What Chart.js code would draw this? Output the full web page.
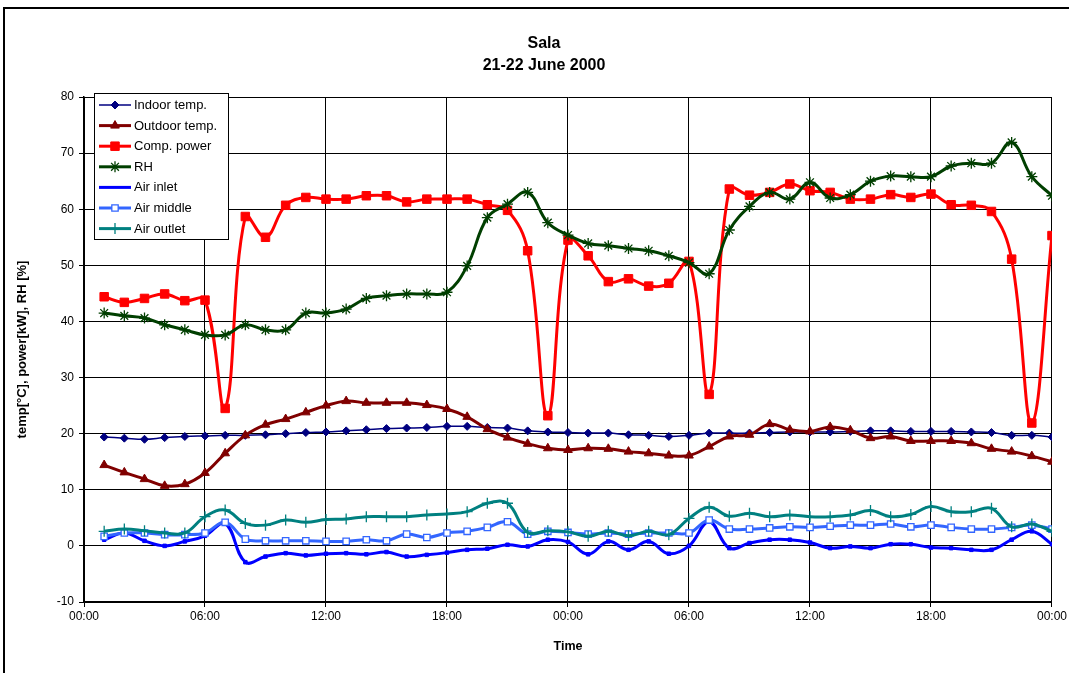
<!DOCTYPE html>
<html>
<head>
<meta charset="utf-8">
<title>Sala 21-22 June 2000</title>
<script src="https://cdn.jsdelivr.net/npm/chart.js@4/dist/chart.umd.min.js"></script>
<style>
  html, body { margin: 0; padding: 0; background: #fff; }
  #wrap { position: relative; width: 1069px; height: 673px; }
</style>
</head>
<body>
<div id="wrap"><canvas id="c" width="1069" height="673"></canvas></div>
<script>
// Hours since midnight 21 June (hourly readings)
const hours = [1,2,3,4,5,6,7,8,9,10,11,12,13,14,15,16,17,18,19,20,21,22,23,24,
               25,26,27,28,29,30,31,32,33,34,35,36,37,38,39,40,41,42,43,44,45,46,47,48];

const tickLabels = ['00:00','06:00','12:00','18:00','00:00','06:00','12:00','18:00','00:00'];

const indoorTemp = [19.4,19.2,19.0,19.3,19.5,19.6,19.7,19.7,19.8,20.0,20.2,20.3,
                    20.5,20.7,20.9,21.0,21.1,21.3,21.3,21.1,21.0,20.5,20.3,20.2,
                    20.1,20.1,19.8,19.7,19.5,19.7,20.1,20.1,20.1,20.2,20.3,20.3,
                    20.3,20.4,20.5,20.5,20.4,20.4,20.4,20.3,20.2,19.7,19.7,19.4];

const outdoorTemp = [14.4,13.1,11.9,10.7,11.0,13.0,16.5,19.7,21.6,22.6,23.8,25.0,
                     25.8,25.5,25.5,25.5,25.1,24.4,23.0,20.8,19.3,18.2,17.4,17.1,
                     17.4,17.3,16.8,16.5,16.1,16.1,17.7,19.5,19.8,21.7,20.7,20.4,
                     21.2,20.6,19.2,19.5,18.7,18.7,18.7,18.3,17.3,16.8,16.0,15.0];

const compPower = [44.4,43.4,44.1,44.9,43.7,43.8,24.5,58.7,55.0,60.7,62.1,61.8,
                   61.8,62.4,62.4,61.3,61.8,61.8,61.8,60.8,59.8,52.6,23.2,54.5,
                   51.7,47.1,47.6,46.3,46.8,50.7,27.0,63.6,62.5,63.0,64.5,63.3,
                   63.0,61.8,61.8,62.6,62.1,62.7,60.8,60.7,59.6,51.1,21.9,55.3];

const relHumidity = [41.5,41.0,40.6,39.4,38.5,37.6,37.6,39.4,38.5,38.5,41.5,41.5,
                     42.2,44.1,44.6,44.9,44.9,45.2,49.9,58.5,60.9,63.0,57.6,55.4,
                     53.9,53.5,53.0,52.6,51.7,50.5,48.5,56.3,60.5,63.0,61.8,64.8,
                     62.0,62.6,65.0,65.9,65.8,65.8,67.7,68.2,68.2,71.9,65.8,62.4];

const airInlet = [1.1,2.3,0.9,0.0,0.8,1.8,4.0,-2.9,-1.9,-1.3,-1.7,-1.4,
                  -1.3,-1.5,-1.1,-1.9,-1.6,-1.2,-0.7,-0.5,0.2,-0.1,1.1,0.7,
                  -1.5,0.8,-0.7,0.8,-1.4,0.0,4.3,-0.4,0.5,1.1,1.1,0.6,
                  -0.4,-0.1,-0.4,0.3,0.3,-0.3,-0.4,-0.7,-0.7,1.1,2.6,0.3];

const airMiddle = [1.7,2.3,2.3,2.0,2.0,2.3,4.2,1.2,0.9,0.9,0.9,0.8,
                   0.8,1.1,0.9,2.1,1.5,2.3,2.6,3.3,4.3,2.1,2.6,2.4,
                   2.1,2.3,2.1,2.3,2.3,2.3,4.6,3.0,3.0,3.2,3.4,3.3,
                   3.5,3.7,3.7,3.9,3.4,3.7,3.3,3.0,3.0,3.3,3.7,3.0];

const airOutlet = [2.6,3.0,2.7,2.3,2.3,5.2,6.4,4.0,3.7,4.6,4.2,4.7,
                   4.8,5.2,5.2,5.2,5.5,5.7,6.1,7.6,7.6,2.4,2.7,2.5,
                   1.7,2.6,1.8,2.6,2.0,4.9,6.9,5.3,5.8,5.2,5.5,5.2,
                   5.2,5.5,6.3,5.2,5.6,7.0,6.1,6.1,6.7,3.4,3.9,2.6];

const pts = vals => hours.map((h, i) => ({ x: h, y: vals[i] }));

const FONT = '"Liberation Sans", Arial, sans-serif';

function series(label, vals, color, opts) {
  return Object.assign({
    label: label,
    data: pts(vals),
    borderColor: color,
    backgroundColor: color,
    pointBorderColor: color,
    pointBackgroundColor: color,
    borderWidth: 3,
    tension: 0.4,
    pointBorderWidth: 1,
    pointHoverRadius: 0
  }, opts);
}

const datasets = [
  series('Indoor temp.', indoorTemp, '#000080', { borderWidth: 1.5, pointStyle: 'rectRot', pointRadius: 4, order: 7 }),
  series('Outdoor temp.', outdoorTemp, '#800000', { pointStyle: 'triangle', pointRadius: 5, order: 6 }),
  series('Comp. power', compPower, '#FF0000', { pointStyle: 'rect', pointRadius: 6, order: 5 }),
  series('RH', relHumidity, '#003F00', { pointStyle: 'star', pointRadius: 5.5, pointBorderWidth: 1.3, order: 4 }),
  series('Air inlet', airInlet, '#0000FF', { pointStyle: 'rect', pointRadius: 2.5, order: 3 }),
  series('Air middle', airMiddle, '#3366FF', { pointStyle: 'rect', pointRadius: 4.5, pointBackgroundColor: '#FFFFFF', pointBorderWidth: 1.3, order: 2 }),
  series('Air outlet', airOutlet, '#008080', { pointStyle: 'cross', pointRadius: 5.5, pointBorderWidth: 1.3, order: 1 })
];

function drawMarker(ctx, ds, x, y) {
  const o = {
    pointStyle: ds.pointStyle, radius: ds.pointRadius, rotation: 0,
    borderWidth: ds.pointBorderWidth
  };
  ctx.save();
  ctx.fillStyle = ds.pointBackgroundColor;
  ctx.strokeStyle = ds.pointBorderColor;
  ctx.lineWidth = ds.pointBorderWidth;
  Chart.helpers.drawPoint(ctx, o, x, y);
  ctx.restore();
}

const decorations = {
  id: 'decorations',
  beforeDraw(chart) {
    const ctx = chart.ctx;
    ctx.save();
    ctx.fillStyle = '#FFFFFF';
    ctx.fillRect(0, 0, chart.width, chart.height);
    ctx.restore();
  },
  afterDraw(chart) {
    const ctx = chart.ctx;
    const area = chart.chartArea;
    ctx.save();

    // outer frame
    ctx.strokeStyle = '#000';
    ctx.lineWidth = 2;
    ctx.beginPath();
    ctx.moveTo(4, 673);
    ctx.lineTo(4, 8);
    ctx.lineTo(1069, 8);
    ctx.stroke();

    // titles
    ctx.fillStyle = '#000';
    ctx.textAlign = 'center';
    ctx.textBaseline = 'middle';
    ctx.font = 'bold 16px ' + FONT;
    ctx.fillText('Sala', 544, 44);
    ctx.fillText('21-22 June 2000', 544, 66);

    ctx.font = 'bold 12.5px ' + FONT;
    ctx.fillText('Time', (area.left + area.right) / 2, 647);

    ctx.save();
    ctx.translate(22, (area.top + area.bottom) / 2);
    ctx.rotate(-Math.PI / 2);
    ctx.font = 'bold 13px ' + FONT;
    ctx.fillText('temp[\u00B0C], power[kW], RH [%]', 0, 0);
    ctx.restore();

    // legend box
    const lx = 94, ly = 93, lw = 134, lh = 146;
    ctx.fillStyle = '#FFFFFF';
    ctx.fillRect(lx, ly, lw, lh);
    ctx.strokeStyle = '#000';
    ctx.lineWidth = 1;
    ctx.strokeRect(lx + 0.5, ly + 0.5, lw, lh);

    ctx.font = '13px ' + FONT;
    ctx.textAlign = 'left';
    chart.data.datasets.forEach((ds, i) => {
      const y = 105 + i * 20.6;
      ctx.strokeStyle = ds.borderColor;
      ctx.lineWidth = ds.borderWidth;
      ctx.beginPath();
      ctx.moveTo(99, y);
      ctx.lineTo(131, y);
      ctx.stroke();
      if (ds.label !== 'Air inlet') drawMarker(ctx, ds, 115, y);
      ctx.fillStyle = '#000';
      ctx.fillText(ds.label, 134, y + 0.5);
    });

    ctx.restore();
  }
};

new Chart(document.getElementById('c'), {
  type: 'line',
  data: { datasets: datasets },
  options: {
    responsive: false,
    animation: false,
    events: [],
    layout: { padding: { left: 0, right: 16, top: 97, bottom: 0 } },
    plugins: {
      legend: { display: false },
      title: { display: false },
      tooltip: { enabled: false }
    },
    scales: {
      x: {
        type: 'linear',
        min: 0, max: 48,
        afterFit: s => { s.height = 71; },
        afterBuildTicks: s => { s.ticks = tickLabels.map((t, i) => ({ value: i * 6 })); },
        ticks: {
          autoSkip: false, maxRotation: 0,
          padding: 2,
          color: '#000',
          font: { family: FONT, size: 12 },
          callback: v => tickLabels[Math.round(v / 6)]
        },
        grid: { color: '#000', lineWidth: 1, tickLength: 5, drawTicks: true },
        border: { display: true, color: '#000', width: 1.5 }
      },
      y: {
        min: -10, max: 80,
        afterFit: s => { s.width = 84; },
        ticks: {
          stepSize: 10,
          padding: 5,
          color: '#000',
          font: { family: FONT, size: 12 }
        },
        grid: { color: '#000', lineWidth: 1, tickLength: 5, drawTicks: true },
        border: { display: true, color: '#000', width: 1.5 }
      }
    }
  },
  plugins: [decorations]
});
</script>
</body>
</html>
